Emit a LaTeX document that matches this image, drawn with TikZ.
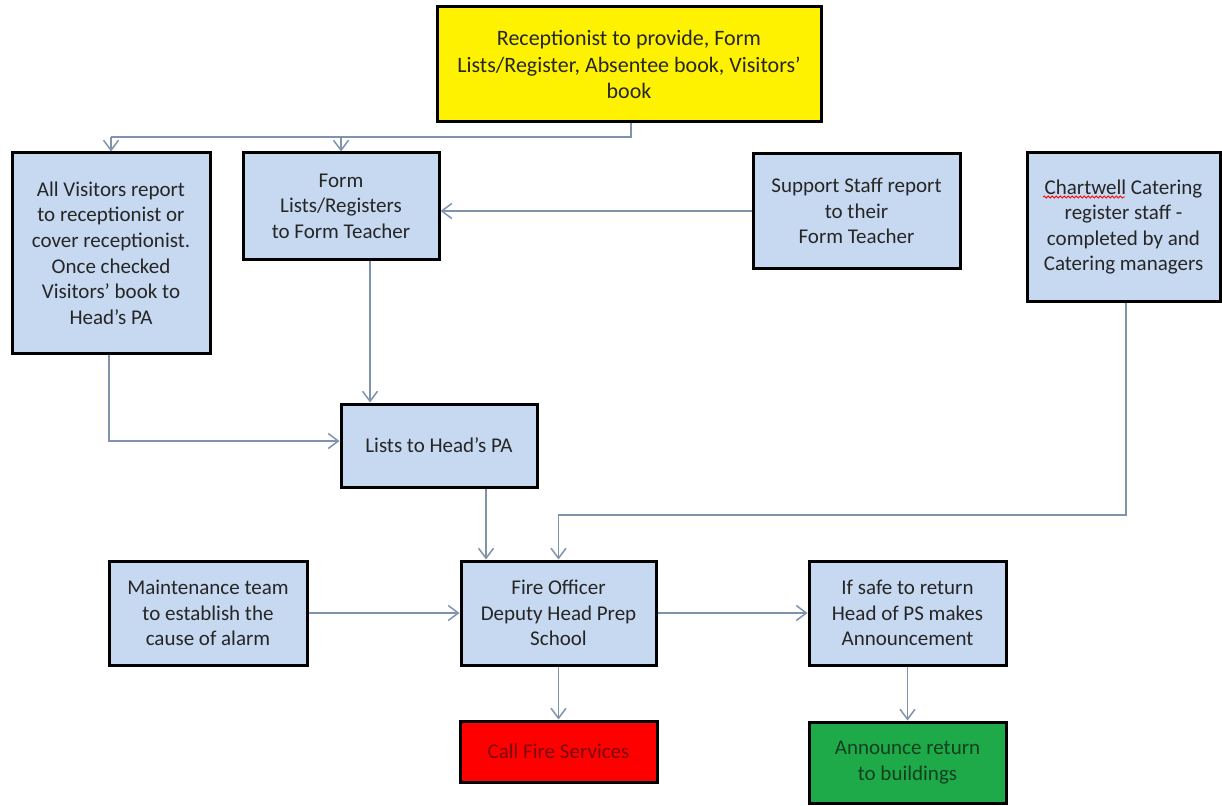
\documentclass[tikz,border=0pt]{standalone}
\usepackage{fontspec}
\setmainfont{Carlito}
\usetikzlibrary{arrows.meta,decorations.pathmorphing}
\definecolor{boxblue}{HTML}{C6D9F1}
\definecolor{conncol}{HTML}{7F93AD}
\definecolor{txtgray}{HTML}{262626}
\definecolor{firered}{HTML}{FF0000}
\definecolor{firetxt}{HTML}{7A0A0A}
\definecolor{okgreen}{HTML}{1FAA4A}
\definecolor{oktxt}{HTML}{123F1E}
\tikzset{
  flowbox/.style={draw=black, line width=3pt, fill=boxblue, align=center,
    text=txtgray, inner sep=2pt, font=\fontsize{21}{25.6}\selectfont},
  conn/.style={draw=conncol, line width=1.5pt},
  arr/.style={conn, -{Straight Barb[length=10pt,width=15pt]}},
  spellwave/.style={draw=red, line width=0.8pt, decorate,
    decoration={snake, amplitude=1.1pt, segment length=4pt}}
}
\begin{document}
\begin{tikzpicture}[x=1pt,y=-1pt]
\useasboundingbox (0,0) rectangle (1222,805);

\node[flowbox, fill=yellow, minimum width=384, minimum height=115,
  font=\fontsize{22}{26.5}\selectfont] (rec) at (629,64.5)
  {Receptionist to provide, Form\\Lists/Register, Absentee book, Visitors’\\book};
\node[flowbox, minimum width=198, minimum height=200] (vis) at (111,253)
  {All Visitors report\\to receptionist or\\cover receptionist.\\Once checked\\Visitors’ book to\\Head’s PA};
\node[flowbox, minimum width=196, minimum height=106] (form) at (341,206)
  {Form\\Lists/Registers\\to Form Teacher};
\node[flowbox, minimum width=207, minimum height=114] (sup) at (856.5,211)
  {Support Staff report\\to their\\Form Teacher};
\node[flowbox, minimum width=193, minimum height=148] (chart) at (1123.5,227)
  {Chartwell Catering\\register staff -\\completed by and\\Catering managers};
\node[flowbox, minimum width=196, minimum height=83] (lists) at (439,445.5)
  {Lists to Head’s PA};
\node[flowbox, minimum width=198, minimum height=104] (maint) at (208,613)
  {Maintenance team\\to establish the\\cause of alarm};
\node[flowbox, minimum width=195, minimum height=104] (fire) at (558.5,613)
  {Fire Officer\\Deputy Head Prep\\School};
\node[flowbox, minimum width=197, minimum height=104] (safe) at (907.5,613)
  {If safe to return\\Head of PS makes\\Announcement};
\node[flowbox, fill=firered, text=firetxt, minimum width=197, minimum height=61] (call) at (558.5,751.5)
  {Call Fire Services};
\node[flowbox, fill=okgreen, text=oktxt, minimum width=197, minimum height=81] (ann) at (907.5,762.5)
  {Announce return\\to buildings};

\coordinate (w1) at (1043,197);
\coordinate (w2) at (1125,197);
\draw[spellwave] (w1) -- (w2);

\coordinate (rj) at (631,137);
\coordinate (cj) at (1126,515);

\draw[conn] (rec.south -| rj) -- (rj) -- (rj -| vis.north);
\draw[arr] (rj -| vis.north) -- (vis.north);
\draw[arr] (rj -| form.north) -- (form.north);
\draw[arr] (sup.west) -- (sup.west -| form.east);
\draw[arr] ([xshift=29pt]form.south) -- ([xshift=29pt]form.south |- lists.north);
\draw[arr] ([xshift=-2pt]vis.south) |- ([yshift=4.5pt]lists.west);
\draw[arr] ([xshift=47pt]lists.south) -- ([xshift=47pt]lists.south |- fire.north);
\draw[arr] (chart.south -| cj) -- (cj) -- (cj -| fire.north) -- (fire.north);
\draw[arr] (maint.east) -- (fire.west);
\draw[arr] (fire.east) -- (safe.west);
\draw[arr] (fire.south) -- (call.north);
\draw[arr] (safe.south) -- (ann.north);
\end{tikzpicture}
\end{document}
